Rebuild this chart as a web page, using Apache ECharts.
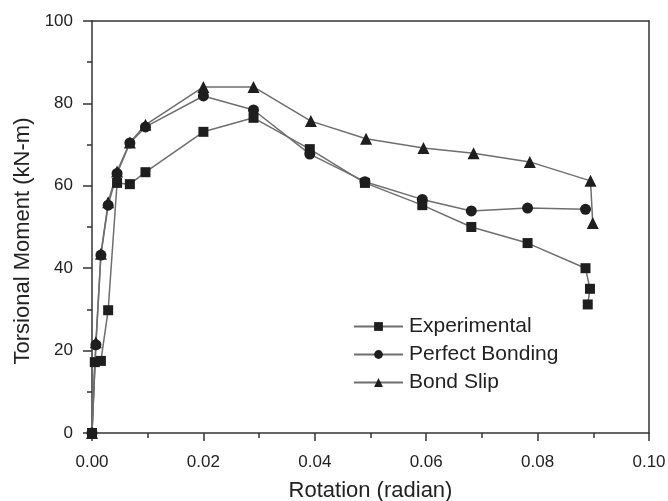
<!DOCTYPE html>
<html>
<head>
<meta charset="utf-8">
<script src="https://cdn.jsdelivr.net/npm/echarts@6/dist/echarts.min.js"></script>
<style>html,body{margin:0;padding:0;background:#fff;}#c{width:668px;height:501px;}</style>
</head>
<body>
<div id="c"></div>
<script>
var seriesNames = ['Experimental', 'Perfect Bonding', 'Bond Slip'];
var expX = [0, 0.0005, 0.0016, 0.0029, 0.0045, 0.0068, 0.0096, 0.020, 0.029, 0.0391, 0.049, 0.0593, 0.0681, 0.0782, 0.0886, 0.0894, 0.0890];
var expY = [0, 17.2, 17.5, 29.8, 60.7, 60.4, 63.3, 73.1, 76.5, 68.9, 60.7, 55.3, 50.0, 46.1, 40.0, 35.0, 31.2];
var pbX = [0, 0.0007, 0.0016, 0.0029, 0.0045, 0.0068, 0.0096, 0.020, 0.029, 0.0391, 0.049, 0.0593, 0.0681, 0.0782, 0.0886];
var pbY = [0, 21.4, 43.2, 55.3, 63.0, 70.4, 74.3, 81.8, 78.4, 67.7, 61.0, 56.7, 53.9, 54.6, 54.3];
var bsX = [0, 0.0007, 0.0016, 0.0029, 0.0045, 0.0068, 0.0096, 0.020, 0.029, 0.0393, 0.0492, 0.0595, 0.0685, 0.0786, 0.0895, 0.0899];
var bsY = [0, 22.0, 43.5, 56.0, 63.5, 70.5, 74.8, 84.0, 84.0, 75.7, 71.4, 69.2, 67.9, 65.8, 61.2, 51.0];
var xTicks = [0, 0.02, 0.04, 0.06, 0.08, 0.10];
var yTicks = [0, 20, 40, 60, 80, 100];

function pairs(xs, ys) { return xs.map(function (x, i) { return [x, ys[i]]; }); }

var FONT = 'Liberation Sans, Arial, sans-serif';
var axisColor = '#333';
var lineColor = '#6e6e6e';
var markColor = '#1e1e1e';

var chart = echarts.init(document.getElementById('c'), null, { renderer: 'canvas' });

function mkSeries(name, data, symbol, size) {
  return {
    name: name, type: 'line', data: data, symbol: symbol, symbolSize: size,
    showSymbol: true, animation: false,
    lineStyle: { color: lineColor, width: 1.5 },
    itemStyle: { color: markColor },
    z: 3
  };
}

chart.setOption({
  animation: false,
  backgroundColor: '#fff',
  grid: { left: 92, right: 19, top: 21, bottom: 68, show: false, containLabel: false, outerBoundsMode: 'none' },
  legend: {
    orient: 'vertical', left: 353, top: 316, padding: 0,
    itemWidth: 49, itemHeight: 11, itemGap: 7,
    textStyle: { fontFamily: FONT, fontSize: 21, color: '#222', padding: [0, 0, 0, 1] },
    data: seriesNames
  },
  xAxis: [{
    type: 'value', min: 0, max: 0.10, interval: 0.02,
    name: 'Rotation (radian)', nameLocation: 'middle', nameGap: 47,
    nameTextStyle: { fontFamily: FONT, fontSize: 22, color: '#222' },
    axisLine: { show: true, onZero: false, lineStyle: { color: axisColor, width: 1.5 } },
    axisTick: { show: true, length: 8, lineStyle: { color: axisColor, width: 1.5 } },
    minorTick: { show: true, splitNumber: 2, length: 5, lineStyle: { color: axisColor, width: 1.5 } },
    axisLabel: { fontFamily: FONT, fontSize: 17, color: '#222', margin: 21,
      formatter: function (v) { return v.toFixed(2); } },
    splitLine: { show: false }
  }, {
    type: 'value', min: 0, max: 0.10, position: 'top',
    axisLine: { show: true, onZero: false, lineStyle: { color: axisColor, width: 1.5 } },
    axisTick: { show: false }, axisLabel: { show: false }, splitLine: { show: false }
  }],
  yAxis: [{
    type: 'value', min: 0, max: 100, interval: 20,
    name: 'Torsional Moment (kN-m)', nameLocation: 'middle', nameGap: 43,
    nameTextStyle: { fontFamily: FONT, fontSize: 22, color: '#222', padding: [0, 28, 0, 0] },
    axisLine: { show: true, onZero: false, lineStyle: { color: axisColor, width: 1.5 } },
    axisTick: { show: true, length: 9, lineStyle: { color: axisColor, width: 1.5 } },
    minorTick: { show: true, splitNumber: 2, length: 5, lineStyle: { color: axisColor, width: 1.5 } },
    axisLabel: { fontFamily: FONT, fontSize: 17, color: '#222', margin: 19 },
    splitLine: { show: false }
  }, {
    type: 'value', min: 0, max: 100, position: 'right',
    axisLine: { show: true, onZero: false, lineStyle: { color: axisColor, width: 1.5 } },
    axisTick: { show: false }, axisLabel: { show: false }, splitLine: { show: false }
  }],
  series: [
    mkSeries(seriesNames[0], pairs(expX, expY), 'rect', 10),
    mkSeries(seriesNames[1], pairs(pbX, pbY), 'circle', 11),
    mkSeries(seriesNames[2], pairs(bsX, bsY), 'triangle', 12)
  ]
});
</script>
</body>
</html>
